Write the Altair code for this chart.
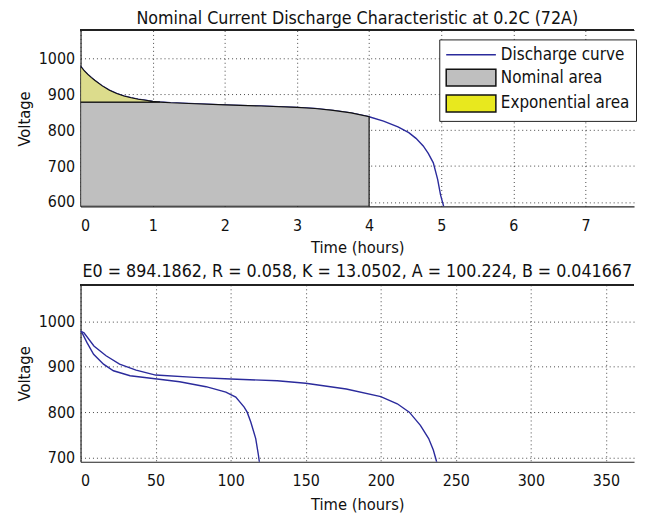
import altair as alt
import pandas as pd

FONT = "Liberation Sans Narrow, DejaVu Sans Condensed, Arial Narrow, Liberation Sans, sans-serif"
BLUE = "#2b2b9c"
GRAY = "#bfbfbf"
YELLOW_LEGEND = "#e8e81e"
YELLOW_AREA = "#dcdc8c"
INK = "#111111"

# ---------------- top panel ----------------
top_time = [0, 0.05, 0.1, 0.15, 0.2, 0.3, 0.4, 0.5, 0.6, 0.7, 0.8, 0.9, 1.0, 1.1,
            1.25, 1.5, 2.0, 2.5, 3.0, 3.25, 3.5, 3.75, 4.0, 4.2, 4.4, 4.55, 4.65,
            4.75, 4.82, 4.89, 4.95, 4.99, 5.04]
top_volt = [978, 965, 955, 946, 938, 923, 911, 902, 895, 890, 886, 883, 880, 878,
            876, 874, 870, 867, 863, 860, 855, 848, 837, 825, 809, 793, 777,
            756, 735, 709, 663, 620, 583]
nominal_voltage = 878
nominal_time = 4.0
exponential_time = 1.1
top_x_ticks = [0, 1, 2, 3, 4, 5, 6, 7]
top_y_ticks = [600, 700, 800, 900, 1000]
top_x_domain = [0, 7.672]
top_y_domain = [588, 1077]
legend_labels = ["Discharge curve", "Nominal area", "Exponential area"]
top_title = "Nominal Current Discharge Characteristic at 0.2C (72A)"

# ---------------- bottom panel ----------------
long_time = [0, 2.3, 8.9, 17, 26, 37, 50, 76, 100, 131, 150, 177, 200, 211, 219,
             226.4, 231.9, 235, 236.9, 237.5]
long_volt = [978, 974.7, 945.5, 924, 905.6, 892.5, 881.6, 876.6, 873, 869, 863.5,
             851, 834.3, 818.4, 800, 771, 742, 716.6, 694.8, 686]
short_time = [0, 1, 4.3, 8.7, 15.3, 21.9, 33, 51, 66, 83.6, 96.8, 103.4, 109, 111,
              113.4, 116.7, 118.5, 119.1, 119.5]
short_volt = [978, 975, 952.9, 927.4, 905.6, 891, 880, 873, 867, 856, 844, 833,
              811, 800, 778.5, 742, 705.7, 691, 684]
bottom_x_ticks = [0, 50, 100, 150, 200, 250, 300, 350]
bottom_y_ticks = [700, 800, 900, 1000]
bottom_x_domain = [0, 368.7]
bottom_y_domain = [691, 1080]
bottom_title = "E0 = 894.1862, R = 0.058, K = 13.0502, A = 100.224, B = 0.041667"

# ---------------- tables ----------------
top_df = pd.DataFrame({"t": top_time, "v": top_volt})
nom_df = top_df[top_df["t"] <= nominal_time].copy()
nom_df["vtop"] = nom_df["v"].clip(upper=nominal_voltage)
nom_df["series"] = "Nominal area"
exp_df = top_df[top_df["t"] <= exponential_time].copy()
exp_df["vnom"] = nominal_voltage

bottom_df = pd.concat([
    pd.DataFrame({"t": long_time, "v": long_volt, "curve": "long"}),
    pd.DataFrame({"t": short_time, "v": short_volt, "curve": "short"}),
])

W = 557
TITLE_SIZE = 17.8

legend = alt.Legend(
    title=None, orient="none", legendX=361, legendY=9, direction="vertical",
    symbolType={"expr": "datum.value == 'Discharge curve' ? 'M-1,0H4.88' : 'M-1,-1H4.88V1H-1Z'"},
    symbolStrokeColor={"expr": "datum.value == 'Discharge curve' ? '%s' : '%s'" % (BLUE, INK)},
    symbolSize=289, symbolStrokeWidth=1.5,
    labelFont=FONT, labelFontSize=17, labelColor=INK, labelOffset=37,
    rowPadding=3, padding=6, strokeColor="#222222", fillColor="white",
)

tx = dict(scale=alt.Scale(domain=top_x_domain, nice=False, zero=False))
ty = dict(scale=alt.Scale(domain=top_y_domain, nice=False, zero=False))

top_line = alt.Chart(top_df).mark_line(color=BLUE, strokeWidth=1.4, clip=True).encode(
    x=alt.X("t:Q", axis=alt.Axis(values=top_x_ticks, format="d", title="Time (hours)"), **tx),
    y=alt.Y("v:Q", axis=alt.Axis(values=top_y_ticks, format="d", title="Voltage"), **ty),
)
top_gray = alt.Chart(nom_df).mark_area(clip=True).encode(
    x=alt.X("t:Q", **tx),
    y=alt.Y("vtop:Q", **ty),
    y2=alt.datum(top_y_domain[0]),
    fill=alt.Fill("series:N", scale=alt.Scale(domain=legend_labels,
                                              range=[BLUE, GRAY, YELLOW_LEGEND]),
                  legend=legend),
)
top_gray_edge = alt.Chart(nom_df).mark_area(clip=True, fillOpacity=0, stroke=INK,
                                            strokeWidth=1.2).encode(
    x=alt.X("t:Q", **tx),
    y=alt.Y("vtop:Q", **ty),
    y2=alt.datum(top_y_domain[0]),
)
top_yellow = alt.Chart(exp_df).mark_area(clip=True, fill=YELLOW_AREA, stroke=INK,
                                         strokeWidth=1.1).encode(
    x=alt.X("t:Q", **tx),
    y=alt.Y("v:Q", **ty),
    y2="vnom:Q",
)
top_frame = alt.Chart(top_df).mark_rule(color="#222222", strokeWidth=1.2).encode(
    y=alt.datum(top_y_domain[1]),
)
top = alt.layer(top_line, top_gray, top_gray_edge, top_yellow, top_frame).properties(
    width=W, height=177,
    title=alt.TitleParams(top_title, fontSize=TITLE_SIZE, font=FONT, fontWeight="normal",
                          color=INK, offset=2),
)

bx = dict(scale=alt.Scale(domain=bottom_x_domain, nice=False, zero=False))
by = dict(scale=alt.Scale(domain=bottom_y_domain, nice=False, zero=False))
bottom_lines = alt.Chart(bottom_df).mark_line(color=BLUE, strokeWidth=1.4, clip=True).encode(
    x=alt.X("t:Q", axis=alt.Axis(values=bottom_x_ticks, format="d", title="Time (hours)",
                                 titlePadding=8), **bx),
    y=alt.Y("v:Q", axis=alt.Axis(values=bottom_y_ticks, format="d", title="Voltage"), **by),
    detail="curve:N",
)
bottom_frame = alt.Chart(bottom_df).mark_rule(color="#222222", strokeWidth=1.2).encode(
    y=alt.datum(bottom_y_domain[1]),
)
bottom = alt.layer(bottom_lines, bottom_frame).properties(
    width=W, height=178,
    title=alt.TitleParams(bottom_title, fontSize=TITLE_SIZE, font=FONT, fontWeight="normal",
                          color=INK, offset=4),
)

chart = alt.vconcat(top, bottom, spacing=6).properties(
    padding={"left": 8, "top": 0, "right": 0, "bottom": 0},
    background="white",
).configure_view(stroke=None).configure_axis(
    domainColor="#222222", domainWidth=1.2,
    grid=True, gridColor="#333333", gridDash=[1, 3], gridWidth=1, gridOpacity=0.9,
    ticks=False, labelFont=FONT, labelFontSize=16, labelColor=INK,
    titleFont=FONT, titleFontSize=16.5, titleFontWeight="normal", titleColor=INK,
    zindex=1,
).configure_axisX(labelPadding=11, titlePadding=6).configure_axisY(
    labelPadding=6, titlePadding=4.5, minExtent=44, maxExtent=44)

chart.save("out.html", embed_options={"renderer": "svg", "actions": False})
